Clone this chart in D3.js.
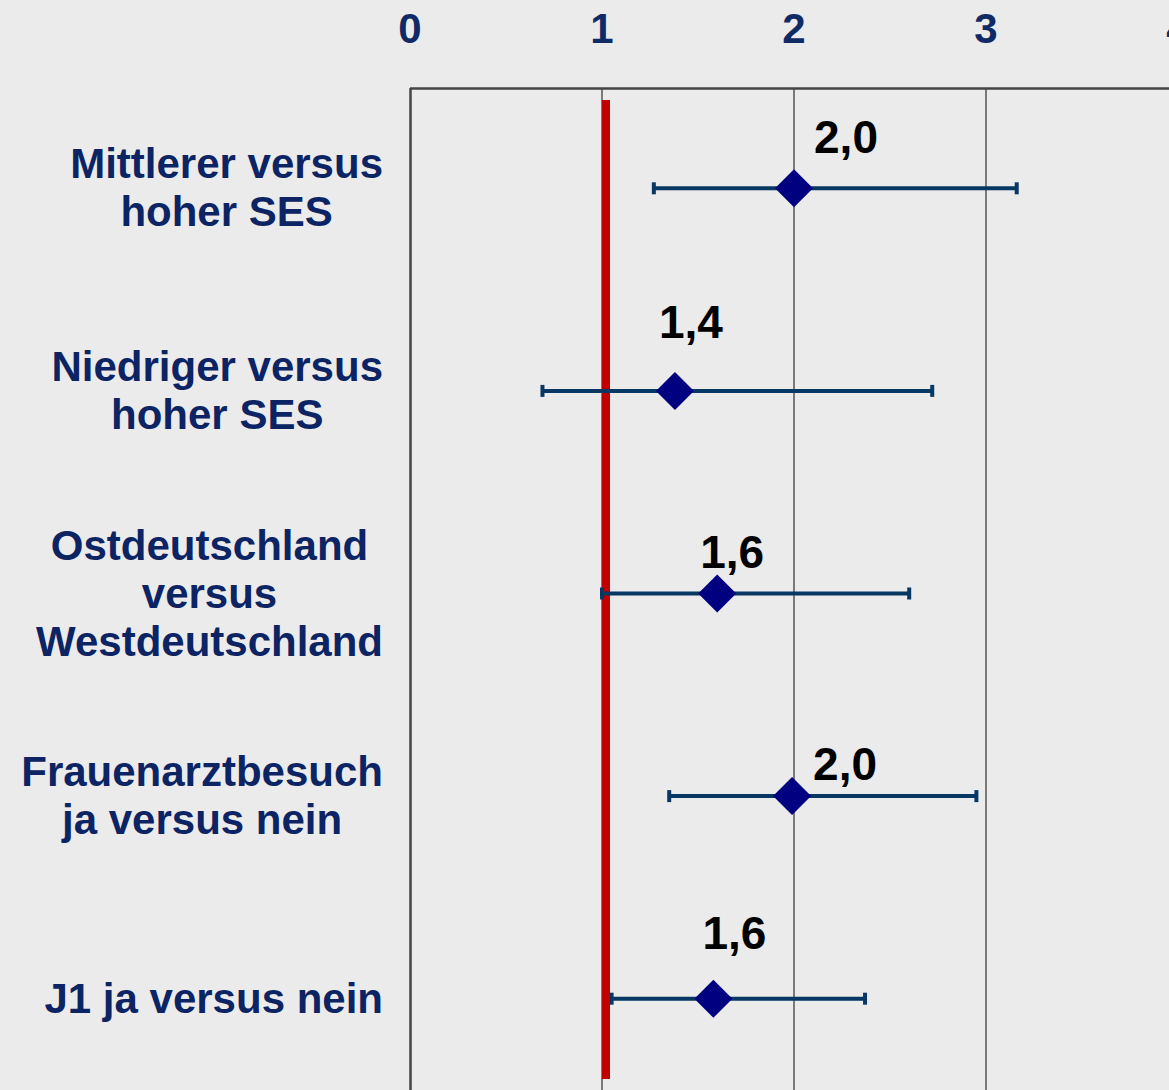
<!DOCTYPE html>
<html>
<head>
<meta charset="utf-8">
<script src="https://cdn.jsdelivr.net/npm/d3@7"></script>
<style>
  html, body { margin: 0; padding: 0; background: #ebebeb; }
  svg { display: block; }
  text { font-family: "Liberation Sans", Arial, sans-serif; font-weight: bold; }
</style>
</head>
<body>
<div id="chart"></div>
<script>
// categories (one entry per row, lines split with "|")
var categories = [
  'Mittlerer versus|hoher SES',
  'Niedriger versus|hoher SES',
  'Ostdeutschland|versus|Westdeutschland',
  'Frauenarztbesuch|ja versus nein',
  'J1 ja versus nein'
];

// odds ratios with confidence interval
var oddsRatio = [2.0, 1.38, 1.6, 1.99, 1.58];
var ciLower   = [1.27, 0.69, 1.0, 1.35, 1.05];
var ciUpper   = [3.16, 2.72, 2.60, 2.95, 2.37];
var valueLabels = ['2,0', '1,4', '1,6', '2,0', '1,6'];

var tickValues = [0, 1, 2, 3, 4];
var refValue = 1;

// label placement relative to the diamond (dx, dy)
var labelNudge = [[52, -35], [16, -53], [15, -26], [53, -16], [21, -50]];

var width = 1169, height = 1090;
var plotLeft = 410, plotTop = 88;

var svg = d3.select('#chart').append('svg')
  .attr('width', width)
  .attr('height', height);

var x = d3.scaleLinear().domain([0, 4]).range([plotLeft, plotLeft + 4 * 192]);
var y = d3.scalePoint().domain(d3.range(categories.length)).range([87, 1100]).padding(0.5);

// tick labels on top (the "4" is cut by the right edge, as in the original)
svg.append('g').selectAll('text')
  .data(tickValues)
  .enter().append('text')
  .attr('x', function(d) { return x(d); })
  .attr('y', 43)
  .attr('text-anchor', 'middle')
  .attr('font-size', 42)
  .attr('fill', '#102a66')
  .text(function(d) { return d; });

// grid lines
svg.append('g').selectAll('line')
  .data(tickValues.slice(1))
  .enter().append('line')
  .attr('x1', function(d) { return x(d); })
  .attr('x2', function(d) { return x(d); })
  .attr('y1', plotTop)
  .attr('y2', height)
  .attr('stroke', '#555')
  .attr('stroke-width', 1.5);

// frame (top and left)
svg.append('line')
  .attr('x1', plotLeft).attr('x2', width)
  .attr('y1', plotTop + 0.5).attr('y2', plotTop + 0.5)
  .attr('stroke', '#444').attr('stroke-width', 2.5);
svg.append('line')
  .attr('x1', plotLeft + 0.5).attr('x2', plotLeft + 0.5)
  .attr('y1', plotTop).attr('y2', height)
  .attr('stroke', '#444').attr('stroke-width', 2.5);

// reference line at OR = 1
svg.append('line')
  .attr('x1', x(refValue) + 4).attr('x2', x(refValue) + 4)
  .attr('y1', 100).attr('y2', 1079)
  .attr('stroke', '#c00000').attr('stroke-width', 8);

var rows = svg.append('g').selectAll('g')
  .data(categories)
  .enter().append('g');

// error bars
rows.append('line')
  .attr('x1', function(d, i) { return x(ciLower[i]); })
  .attr('x2', function(d, i) { return x(ciUpper[i]); })
  .attr('y1', function(d, i) { return y(i); })
  .attr('y2', function(d, i) { return y(i); })
  .attr('stroke', '#073763')
  .attr('stroke-width', 4);

rows.each(function(d, i) {
  var g = d3.select(this);
  [ciLower[i], ciUpper[i]].forEach(function(v) {
    g.append('line')
      .attr('x1', x(v)).attr('x2', x(v))
      .attr('y1', y(i) - 6).attr('y2', y(i) + 6)
      .attr('stroke', '#073763')
      .attr('stroke-width', 4);
  });
});

// diamonds
rows.append('path')
  .attr('d', 'M0,-19L19,0L0,19L-19,0Z')
  .attr('transform', function(d, i) { return 'translate(' + x(oddsRatio[i]) + ',' + y(i) + ')'; })
  .attr('fill', '#000080');

// value labels
rows.append('text')
  .attr('x', function(d, i) { return x(oddsRatio[i]) + labelNudge[i][0]; })
  .attr('y', function(d, i) { return y(i) + labelNudge[i][1]; })
  .attr('text-anchor', 'middle')
  .attr('font-size', 46)
  .attr('fill', '#000')
  .text(function(d, i) { return valueLabels[i]; });

// category labels: block right-aligned at 383, lines centred within the block
var lineHeight = 48;
rows.each(function(d, i) {
  var lines = d.split('|');
  var t = d3.select(this).append('text')
    .attr('font-size', 42)
    .attr('fill', '#0c2463')
    .attr('text-anchor', 'middle');
  var spans = t.selectAll('tspan')
    .data(lines)
    .enter().append('tspan')
    .attr('y', function(l, j) { return y(i) + 14 + (j - (lines.length - 1) / 2) * lineHeight; })
    .text(function(l) { return l; });
  var maxW = 0;
  spans.each(function() { maxW = Math.max(maxW, this.getComputedTextLength()); });
  spans.attr('x', 383 - maxW / 2);
});
</script>
</body>
</html>
